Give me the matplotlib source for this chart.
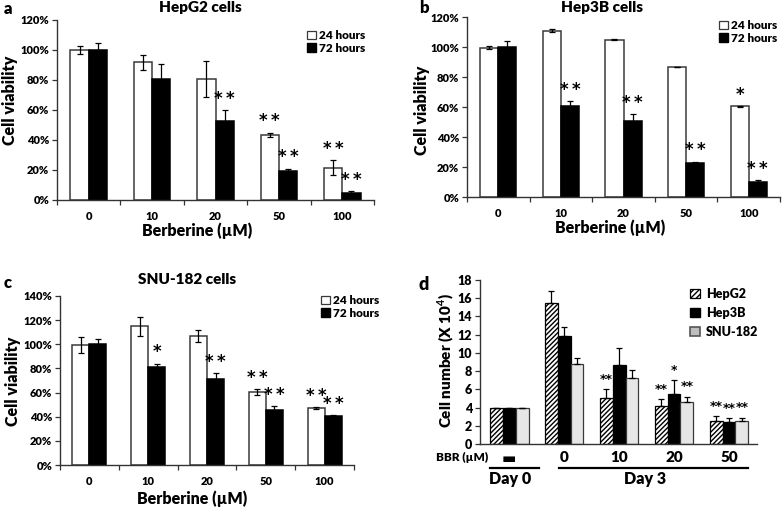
import numpy as np
import matplotlib
matplotlib.use("Agg")
import matplotlib.pyplot as plt
from matplotlib.patches import Patch

plt.rcParams['font.family'] = ['Lato', 'DejaVu Sans']
plt.rcParams['font.weight'] = 'heavy'
plt.rcParams['mathtext.fontset'] = 'custom'
plt.rcParams['mathtext.rm'] = 'Lato:bold'
plt.rcParams['hatch.linewidth'] = 1.0

W, H = 784, 507
BOLD = 'heavy'

doses = ['0', '10', '20', '50', '100']

# panel a - HepG2
hepg2_24 = [100, 92, 81, 43.5, 21.5]
hepg2_24_err = [2.5, 5, 12, 1.5, 5]
hepg2_72 = [100, 80.5, 53, 19.5, 5]
hepg2_72_err = [5, 10, 7, 1.5, 0.7]
hepg2_24_star = ['', '', '', '**', '**']
hepg2_72_star = ['', '', '**', '**', '**']

# panel b - Hep3B
hep3b_24 = [99.5, 111, 105, 87, 60.5]
hep3b_24_err = [1, 1.2, 0.6, 0, 0.3]
hep3b_72 = [100, 61, 50.5, 23, 10]
hep3b_72_err = [4, 3, 5, 0.6, 1.5]
hep3b_24_star = ['', '', '', '', '*']
hep3b_72_star = ['', '**', '**', '**', '**']

# panel c - SNU-182
snu_24 = [99.5, 115, 107, 60.5, 47.5]
snu_24_err = [6.5, 8, 5, 2.5, 0.8]
snu_72 = [100, 81, 71, 45.5, 41]
snu_72_err = [4, 3, 5, 3, 0.5]
snu_24_star = ['', '', '', '**', '**']
snu_72_star = ['', '*', '**', '**', '**']

# panel d - cell number
bbr_labels = ['\u25ac', '0', '10', '20', '50']
cnt_hepg2 = [4, 15.5, 5.1, 4.2, 2.5]
cnt_hepg2_err = [0, 1.3, 0.9, 0.7, 0.6]
cnt_hep3b = [4, 11.8, 8.7, 5.5, 2.4]
cnt_hep3b_err = [0, 1.0, 1.8, 1.5, 0.4]
cnt_snu = [4, 8.8, 7.2, 4.6, 2.5]
cnt_snu_err = [0, 0.6, 0.9, 0.6, 0.4]
cnt_hepg2_star = ['', '', '**', '**', '**']
cnt_hep3b_star = ['', '', '', '*', '**']
cnt_snu_star = ['', '', '', '**', '**']


def rect(l, r, t, b):
    return [l / W, 1 - b / H, (r - l) / W, (b - t) / H]


def ftext(x, y, s, **kw):
    fig.text(x / W, 1 - y / H, s, ha='center', va='center', fontweight=BOLD, **kw)


def star(ax, x, top, s, size=12, off=8, sep='\u2009'):
    if s:
        ax.annotate(s.replace('**', '*' + sep + '*'), (x, top), xytext=(0, off), textcoords='offset points',
                    ha='center', va='center', fontsize=size, fontweight='bold',
                    family='DejaVu Sans')


def style_axis(ax):
    for sp in ['top', 'right']:
        ax.spines[sp].set_visible(False)
    for sp in ['left', 'bottom']:
        ax.spines[sp].set_color('#333333')
        ax.spines[sp].set_linewidth(1.0)


def viability(ax, v24, e24, v72, e72, s24, s72, ymax):
    x = np.arange(len(doses))
    w = 0.29
    ax.bar(x - w / 2, v24, w, color='white', edgecolor='#3a3a3a', linewidth=1.1,
           yerr=e24, capsize=2.5, error_kw=dict(elinewidth=0.9, capthick=0.9))
    ax.bar(x + w / 2, v72, w, color='black', edgecolor='black', linewidth=1.1,
           yerr=e72, capsize=2.5, error_kw=dict(elinewidth=0.9, capthick=0.9))
    for i in range(len(doses)):
        star(ax, x[i] - w / 2, v24[i] + e24[i], s24[i])
        star(ax, x[i] + w / 2, v72[i] + e72[i], s72[i])
    ax.set_xlim(-0.5, len(doses) - 0.5)
    ax.set_ylim(0, ymax)
    ticks = np.arange(0, ymax + 1, 20)
    ax.set_yticks(ticks)
    ax.set_yticklabels([f'{t}%' for t in ticks], fontsize=8, fontweight=BOLD)
    ax.set_xticks(x)
    ax.set_xticklabels(doses, fontsize=8, fontweight=BOLD)
    ax.set_xticks(np.arange(len(doses) + 1) - 0.5, minor=True)
    ax.tick_params(axis='x', which='major', length=0, pad=8)
    ax.tick_params(axis='x', which='minor', length=3.5, width=0.9, direction='out', color='#333333')
    ax.tick_params(axis='y', length=3.5, width=0.9, color='#333333', pad=2)
    style_axis(ax)


def viab_legend(ax, x, y):
    h = [Patch(facecolor='white', edgecolor='#3a3a3a', linewidth=0.9),
         Patch(facecolor='black', edgecolor='black')]
    ax.legend(h, ['24 hours', '72 hours'], loc='upper left', bbox_to_anchor=(x / W, 1 - y / H),
              bbox_transform=fig.transFigure, frameon=False,
              handlelength=0.75, handleheight=0.75, handletextpad=0.3, borderpad=0,
              borderaxespad=0, labelspacing=0.15, prop=dict(weight=BOLD, size=8.5))


fig = plt.figure(figsize=(W / 100, H / 100), dpi=100)

ax_a = fig.add_axes(rect(57, 374, 20, 200))
viability(ax_a, hepg2_24, hepg2_24_err, hepg2_72, hepg2_72_err, hepg2_24_star, hepg2_72_star, 120)
viab_legend(ax_a, 307, 30)
ftext(200, 8, 'HepG2 cells', fontsize=11)
ftext(8, 9, 'a', fontsize=12)
ftext(197, 231, 'Berberine (\u00b5M)', fontsize=11.5)
ftext(10, 100, 'Cell viability', fontsize=11.5, rotation=90)

ax_b = fig.add_axes(rect(467, 780, 17, 197))
viability(ax_b, hep3b_24, hep3b_24_err, hep3b_72, hep3b_72_err, hep3b_24_star, hep3b_72_star, 120)
viab_legend(ax_b, 719, 20)
ftext(602, 7, 'Hep3B cells', fontsize=11)
ftext(424, 8, 'b', fontsize=12)
ftext(610, 228, 'Berberine (\u00b5M)', fontsize=11.5)
ftext(422, 110, 'Cell viability', fontsize=11.5, rotation=90)

ax_c = fig.add_axes(rect(60, 354, 296, 465))
viability(ax_c, snu_24, snu_24_err, snu_72, snu_72_err, snu_24_star, snu_72_star, 140)
viab_legend(ax_c, 321, 295)
ftext(187, 280, 'SNU-182 cells', fontsize=11)
ftext(8, 283, 'c', fontsize=12)
ftext(192, 499, 'Berberine (\u00b5M)', fontsize=11.5)
ftext(13, 381, 'Cell viability', fontsize=11.5, rotation=90)

# panel d
ax_d = fig.add_axes(rect(480, 757, 280, 444))
x = np.arange(len(bbr_labels))
w = 0.235
kw = dict(capsize=2.5, error_kw=dict(elinewidth=0.9, capthick=0.9))
zeros = [0] * len(x)
ax_d.bar(x - w, cnt_hepg2, w, color='white', edgecolor='black', hatch='///////', linewidth=0.9,
         yerr=[zeros, cnt_hepg2_err], **kw)
ax_d.bar(x, cnt_hep3b, w, color='black', edgecolor='black', linewidth=0.9,
         yerr=[zeros, cnt_hep3b_err], **kw)
ax_d.bar(x + w, cnt_snu, w, color='#e6e6e6', edgecolor='#3a3a3a', linewidth=0.9,
         yerr=[zeros, cnt_snu_err], **kw)
for i in range(len(x)):
    star(ax_d, x[i] - w, cnt_hepg2[i] + cnt_hepg2_err[i], cnt_hepg2_star[i], size=9, off=7, sep='')
    star(ax_d, x[i], cnt_hep3b[i] + cnt_hep3b_err[i], cnt_hep3b_star[i], size=9, off=7, sep='')
    star(ax_d, x[i] + w, cnt_snu[i] + cnt_snu_err[i], cnt_snu_star[i], size=9, off=7, sep='')
ax_d.set_xlim(-0.53, 4.51)
ax_d.set_ylim(0, 18)
ax_d.set_yticks(np.arange(0, 19, 2))
ax_d.set_yticklabels([str(t) for t in range(0, 19, 2)], fontsize=9, fontweight=BOLD)
ax_d.set_xticks(x)
ax_d.set_xticklabels(bbr_labels, fontsize=11, fontweight=BOLD)
ax_d.get_xticklabels()[0].set_family('DejaVu Sans')
ax_d.tick_params(axis='x', length=0, pad=5)
ax_d.tick_params(axis='y', length=3.5, width=0.9, color='#333333', pad=2)
style_axis(ax_d)
hd = [Patch(facecolor='white', edgecolor='black', hatch='//////', linewidth=0.9),
      Patch(facecolor='black', edgecolor='black'),
      Patch(facecolor='#bdbdbd', edgecolor='#555555', linewidth=1.2)]
ax_d.legend(hd, ['HepG2', 'Hep3B', 'SNU-182'], loc='upper left', bbox_to_anchor=(690 / W, 1 - 288 / H),
            bbox_transform=fig.transFigure, frameon=False, handlelength=0.8, handleheight=0.8,
            handletextpad=0.5, borderpad=0, borderaxespad=0, labelspacing=0.55,
            prop=dict(weight=BOLD, size=9))
ftext(424, 284, 'd', fontsize=13)
ftext(446, 361, 'Cell number (X 10$^{4}$)', fontsize=11, rotation=90)
ftext(462, 457, 'BBR (\u00b5M)', fontsize=8.5)
ftext(510, 479, 'Day 0', fontsize=11.5)
ftext(645, 479, 'Day 3', fontsize=11.5)
fig.add_artist(plt.Line2D([490 / W, 539 / W], [1 - 468 / H, 1 - 468 / H], color='black', lw=1.6))
fig.add_artist(plt.Line2D([559 / W, 748 / W], [1 - 468 / H, 1 - 468 / H], color='black', lw=1.6))

fig.savefig('out.png', dpi=100)
